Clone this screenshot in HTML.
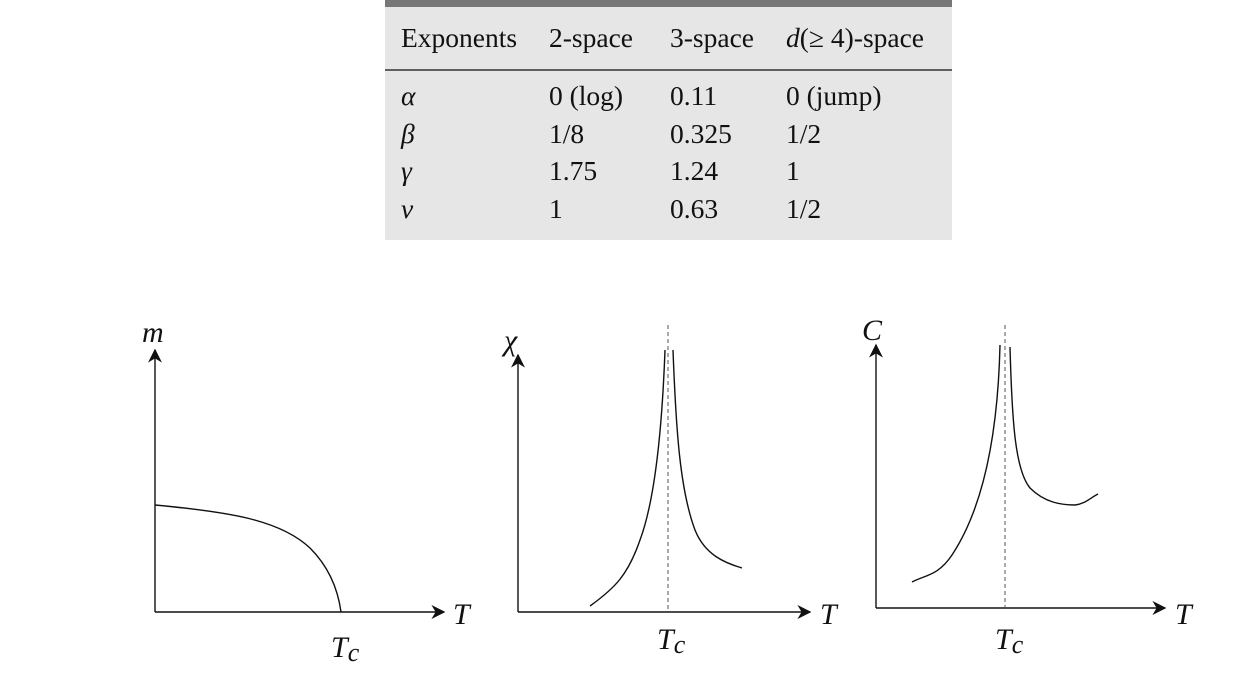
<!DOCTYPE html>
<html><head><meta charset="utf-8"><style>
html,body{margin:0;padding:0;background:#fff;}
body{width:1246px;height:674px;position:relative;overflow:hidden;font-family:"Liberation Serif",serif;}
svg{position:absolute;left:0;top:0;}
</style></head><body>
<svg width="1246" height="674" viewBox="0 0 1246 674" font-family="Liberation Serif, serif">
<defs>
<marker id="ar" viewBox="0 0 10 10" refX="9" refY="5" markerWidth="14" markerHeight="14" markerUnits="userSpaceOnUse" orient="auto">
<path d="M0,0 L10,5 L0,10 L3,5 Z" fill="#111"/></marker>
</defs>
<rect x="385" y="0" width="567" height="240" fill="#e6e6e6"/>
<rect x="385" y="0" width="567" height="7" fill="#777"/>
<line x1="385" y1="70" x2="952" y2="70" stroke="#333" stroke-width="1.6"/>
<g font-size="27.5" fill="#111">
<text x="401" y="47">Exponents</text><text x="549" y="47">2-space</text><text x="670" y="47">3-space</text>
<text x="786" y="47"><tspan font-style="italic">d</tspan>(≥ 4)-space</text>
<g font-style="italic"><text x="401" y="105">α</text><text x="401" y="143">β</text><text x="401" y="180">γ</text><text x="401" y="218">ν</text></g>
<text x="549" y="105">0 (log)</text><text x="670" y="105">0.11</text><text x="786" y="105">0 (jump)</text>
<text x="549" y="143">1/8</text><text x="670" y="143">0.325</text><text x="786" y="143">1/2</text>
<text x="549" y="180">1.75</text><text x="670" y="180">1.24</text><text x="786" y="180">1</text>
<text x="549" y="218">1</text><text x="670" y="218">0.63</text><text x="786" y="218">1/2</text>
</g>
<g stroke="#111" stroke-width="1.4" fill="none">
<line x1="155" y1="612" x2="155" y2="350" marker-end="url(#ar)"/>
<line x1="155" y1="612" x2="444" y2="612" marker-end="url(#ar)"/>
<path d="M155,505 C230,512 280,520 310,548 C330,568 338,590 341,612"/>
<line x1="518" y1="612" x2="518" y2="355" marker-end="url(#ar)"/>
<line x1="518" y1="612" x2="810" y2="612" marker-end="url(#ar)"/>
<line x1="668" y1="325" x2="668" y2="612" stroke-dasharray="4,3" stroke="#555" stroke-width="1"/>
<path d="M590,606 C615,588 628,575 640,540 C655,500 662,430 665,350"/>
<path d="M673,350 C676,430 680,490 695,530 C705,555 725,563 742,568"/>
<line x1="876" y1="608" x2="876" y2="345" marker-end="url(#ar)"/>
<line x1="876" y1="608" x2="1165" y2="608" marker-end="url(#ar)"/>
<line x1="1005" y1="325" x2="1005" y2="608" stroke-dasharray="4,3" stroke="#555" stroke-width="1"/>
<path d="M912,582 C925,575 938,576 952,555 C985,505 998,430 1000,345"/>
<path d="M1010,347 C1012,420 1015,470 1030,488 C1045,503 1062,505 1075,505 C1085,504 1090,498 1098,494"/>
</g>
<g font-size="30" font-style="italic" fill="#111">
<text x="142" y="342">m</text>
<text x="453" y="624">T</text>
<text x="331" y="657">T<tspan font-size="26" dy="4">c</tspan></text>
<text x="504" y="350">χ</text>
<text x="820" y="624">T</text>
<text x="657" y="649">T<tspan font-size="26" dy="4">c</tspan></text>
<text x="862" y="340">C</text>
<text x="1175" y="624">T</text>
<text x="995" y="649">T<tspan font-size="26" dy="4">c</tspan></text>
</g>
</svg>
</body></html>
